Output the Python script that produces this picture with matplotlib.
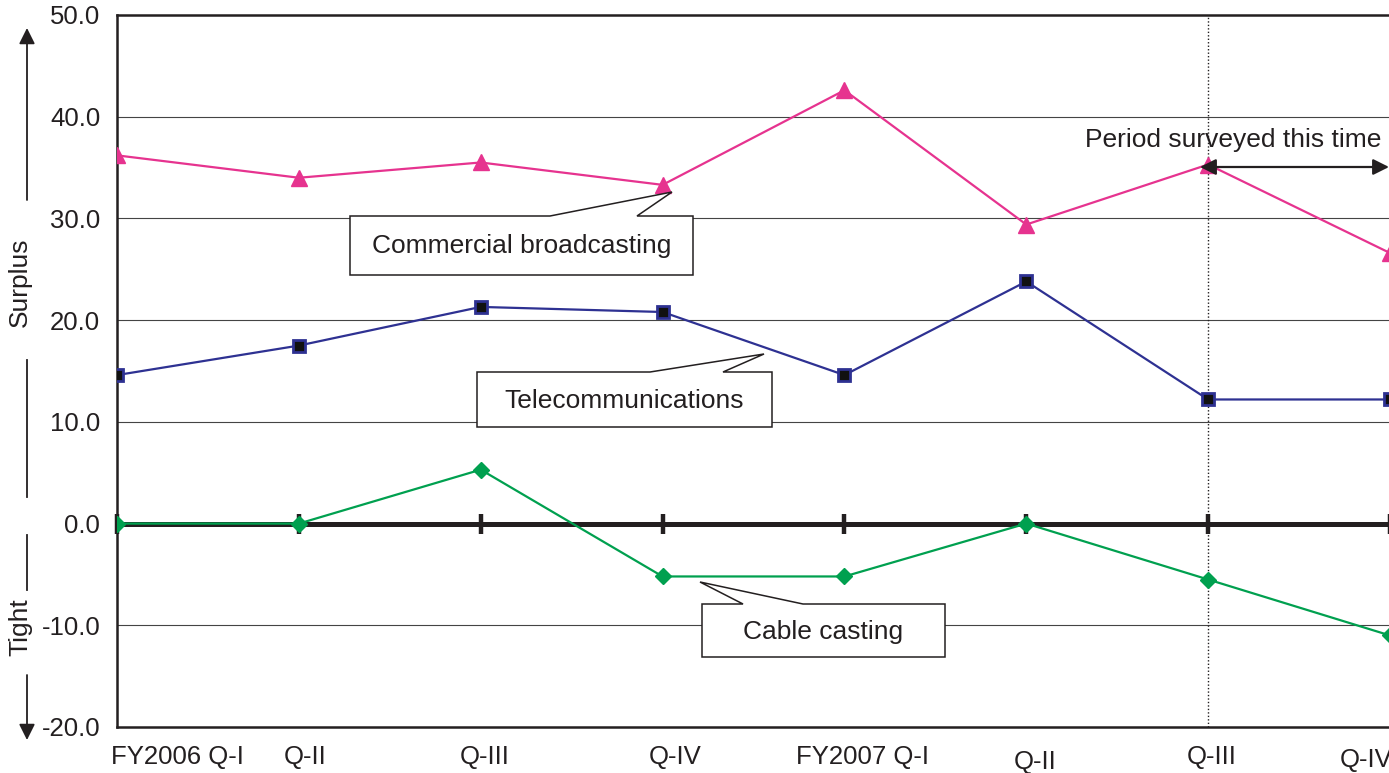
import numpy as np
import matplotlib
matplotlib.use('Agg')
import matplotlib.pyplot as plt
from matplotlib.patches import Polygon

plt.rcParams.update({
    'font.family': ['Liberation Sans', 'DejaVu Sans'],
    'font.size': 18,
    'text.color': '#231f20',
    'axes.edgecolor': '#231f20',
    'xtick.color': '#231f20',
    'ytick.color': '#231f20',
})

# --- datos ---
quarters = ['FY2006 Q-I', 'Q-II', 'Q-III', 'Q-IV',
            'FY2007 Q-I', 'Q-II', 'Q-III', 'Q-IV']
commercial = [36.2, 34.0, 35.5, 33.3, 42.6, 29.4, 35.3, 26.6]
telecom    = [14.6, 17.5, 21.3, 20.8, 14.6, 23.8, 12.2, 12.2]
cable      = [0.0, 0.0, 5.3, -5.2, -5.2, 0.0, -5.5, -11.0]
y_ticks    = [-20, -10, 0, 10, 20, 30, 40, 50]
survey_start = 6

PINK  = '#E6338F'
NAVY  = '#2E3192'
GREEN = '#00A04F'
INK   = '#231f20'

W, H = 1389, 773
fig = plt.figure(figsize=(W / 100, H / 100), dpi=100)
ax = fig.add_axes([117 / W, 1 - 727 / H, (1390 - 117) / W, (727 - 15) / H])

x = np.arange(len(quarters))
ax.set_xlim(0, len(quarters) - 1)
ax.set_ylim(-20, 50)

# rejilla horizontal
for yv in y_ticks:
    if yv not in (0, -20, 50):
        ax.axhline(yv, color='#444444', linewidth=0.8, zorder=1)

# línea de cero gruesa con marcas
ax.axhline(0, color=INK, linewidth=3.6, zorder=2)
ax.plot(x, np.zeros(len(x)), linestyle='none', marker='|', markersize=14,
        markeredgewidth=3.2, color=INK, zorder=2, clip_on=False)

# inicio del periodo encuestado
ax.axvline(survey_start, color=INK, linewidth=1.0, linestyle=(0, (1, 1.5)), zorder=1)

ax.plot(x, commercial, '-^', color=PINK, linewidth=1.6, markersize=11, zorder=4)
ax.plot(x, telecom, '-s', color=NAVY, linewidth=1.6, markersize=9,
        markerfacecolor='#111111', markeredgecolor=NAVY, markeredgewidth=2, zorder=4)
ax.plot(x, cable, '-D', color=GREEN, linewidth=1.6, markersize=8, zorder=4)

ax.set_yticks(y_ticks)
ax.set_yticklabels([f'{v:.1f}' for v in y_ticks], fontsize=18.5)
ax.tick_params(axis='y', length=0, pad=12)
ax.set_xticks([])

for side in ('left', 'top', 'bottom'):
    ax.spines[side].set_linewidth(1.8)
ax.spines['right'].set_visible(False)

# etiquetas del eje x (ligeramente desplazadas como en el original)
label_dx = [0.335, 0.034, 0.024, 0.07, 0.10, 0.05, 0.02, -0.13]
label_dy = [0, 0, 0, 0, 0, -5, 0, -3]
for i, lab in enumerate(quarters):
    ax.annotate(lab, xy=(x[i] + label_dx[i], 0), xycoords=ax.get_xaxis_transform(),
                xytext=(0, -30 + label_dy[i]), textcoords='offset pixels',
                ha='center', va='center', fontsize=18.5, annotation_clip=False)

# --- capa superpuesta en píxeles para llamadas y flechas ---
ov = fig.add_axes([0, 0, 1, 1], zorder=5)
ov.set_xlim(0, W)
ov.set_ylim(H, 0)
ov.axis('off')
ov.patch.set_visible(False)


def callout(box, base, tip, text):
    x0, y0, x1, y1 = box
    pts = [(x0, y0), (base[0], y0), tip, (base[1], y0), (x1, y0), (x1, y1), (x0, y1)]
    ov.add_patch(Polygon(pts, closed=True, facecolor='white', edgecolor=INK,
                         linewidth=1.1, joinstyle='miter'))
    ov.text((x0 + x1) / 2, (y0 + y1) / 2 + 1, text, ha='center', va='center', fontsize=19)


callout((350, 216, 693, 275), (550, 637), (672, 192), 'Commercial broadcasting')
callout((477, 372, 772, 427), (650, 723), (764, 354), 'Telecommunications')
callout((702, 604, 945, 657), (743, 803), (700, 582), 'Cable casting')

ov.text(1233, 140, 'Period surveyed this time', ha='center', va='center', fontsize=19)
ov.annotate('', xy=(1389, 167), xytext=(1200, 167),
            arrowprops=dict(arrowstyle='<|-|>', color=INK, lw=1.6,
                            mutation_scale=24, shrinkA=0, shrinkB=0))

# flechas laterales Surplus / Tight
ov.annotate('', xy=(27, 28), xytext=(27, 200),
            arrowprops=dict(arrowstyle='-|>', color=INK, lw=1.3,
                            mutation_scale=24, shrinkA=0, shrinkB=0))
ov.plot([27, 27], [360, 497], color=INK, linewidth=1.3)
ov.text(20, 282, 'Surplus', rotation=90, ha='center', va='center', fontsize=19)
ov.plot([27, 27], [535, 590], color=INK, linewidth=1.3)
ov.text(20, 627, 'Tight', rotation=90, ha='center', va='center', fontsize=19)
ov.annotate('', xy=(27, 740), xytext=(27, 675),
            arrowprops=dict(arrowstyle='-|>', color=INK, lw=1.3,
                            mutation_scale=24, shrinkA=0, shrinkB=0))

fig.savefig('out.png', dpi=100)
